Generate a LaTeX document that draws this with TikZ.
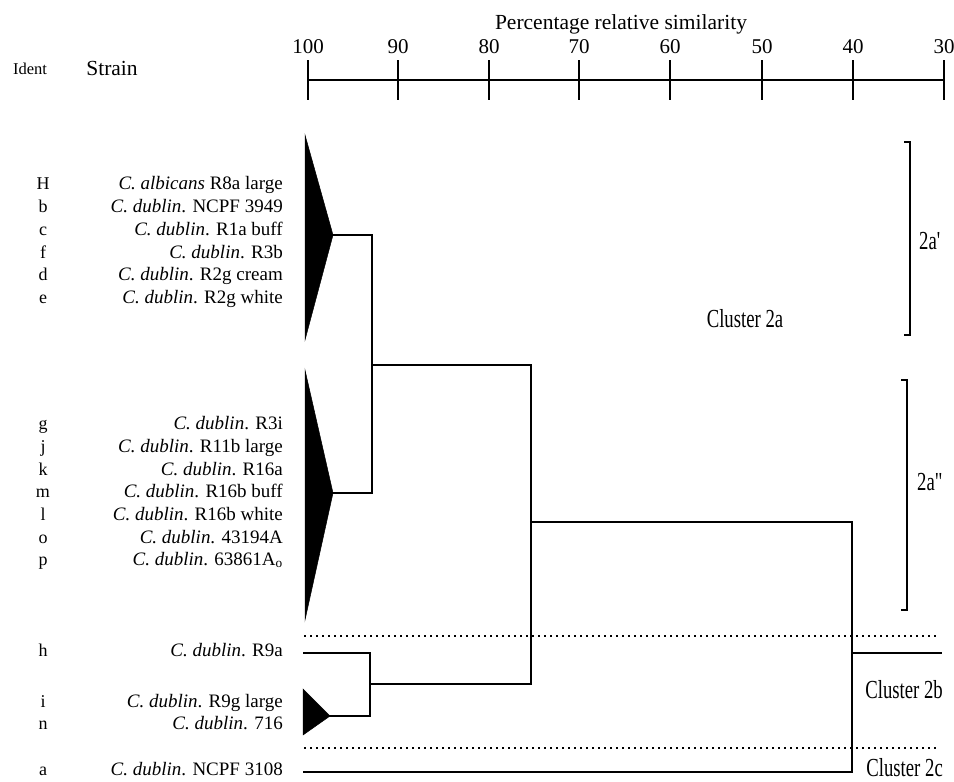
\documentclass[tikz,border=0pt]{standalone}
\usepackage{fontspec}
\usepackage{graphicx}
\setmainfont{Liberation Serif}
\newfontfamily\rawserif[Ligatures=TeXOff]{Liberation Serif}
\newcommand{\cd}{\textit{C. dublin}.}
\newcommand{\cond}[1]{\scalebox{0.72}[1]{#1}}
\begin{document}
\begin{tikzpicture}[x=1pt,y=-1pt,
  strain/.style={inner sep=0pt, anchor=base east, font=\fontsize{19}{19}\selectfont},
  identlbl/.style={inner sep=0pt, anchor=base, font=\fontsize{18}{18}\selectfont},
  head/.style={inner sep=0pt, anchor=base, font=\fontsize{21.5}{21.5}\selectfont},
  ticklbl/.style={inner sep=0pt, anchor=base, font=\fontsize{21}{21}\selectfont},
  clus/.style={inner sep=0pt, font=\fontsize{26}{26}\selectfont},
  branch/.style={line width=1.6pt, line cap=rect},
  axisline/.style={line width=1.8pt},
  sep/.style={line width=1.8pt, dash pattern=on 1.6pt off 4.4pt},
  brk/.style={line width=1.2pt},
  wedge/.style={fill=black, draw=black, line width=0.5pt, line join=miter}]
\useasboundingbox (0,0) rectangle (954,782);

% ---------- axis ----------
\node[head] (title) at (621,29) {Percentage relative similarity};
\coordinate (ax0) at (308,80);
\coordinate (ax1) at (944,80);
\draw[axisline] (ax0) -- (ax1);
\foreach \v/\x in {100/308,90/398,80/489,70/579,60/670,50/762,40/853,30/944}{
  \coordinate (t\v a) at (\x,60);
  \coordinate (t\v b) at (\x,100);
  \draw[axisline] (t\v a) -- (t\v b);
  \node[ticklbl] (tl\v) at (\x,53) {\v};
}
\node[identlbl, font=\fontsize{16.5}{16.5}\selectfont] (hid) at (30,74) {Ident};
\node[head] (hst) at (112,75) {Strain};

% ---------- labels ----------
\foreach \n/\id/\y/\txt in {
  rH/H/189/{\textit{C. albicans} R8a large},
  rb/b/212/{\cd{} NCPF 3949},
  rc/c/235/{\cd{} R1a buff},
  rf/f/258/{\cd{} R3b},
  rd/d/280/{\cd{} R2g cream},
  re/e/303/{\cd{} R2g white},
  rg/g/429/{\cd{} R3i},
  rj/j/452/{\cd{} R11b large},
  rk/k/475/{\cd{} R16a},
  rm/m/497/{\cd{} R16b buff},
  rl/l/520/{\cd{} R16b white},
  ro/o/543/{\cd{} 43194A},
  rp/p/565/{\cd{} 63861A$_{\mathrm{o}}$},
  rh/h/656/{\cd{} R9a},
  ri/i/707/{\cd{} R9g large},
  rn/n/729/{\cd{} 716},
  ra/a/775/{\cd{} NCPF 3108}}{
  \node[identlbl] (\n id) at (43,\y) {\id};
  \node[strain] (\n st) at (283,\y) {\txt};
}

% ---------- wedges ----------
\coordinate (w1a) at (305,135); \coordinate (w1b) at (305,340); \coordinate (w1t) at (333,235);
\coordinate (w2a) at (305,370); \coordinate (w2b) at (305,620); \coordinate (w2t) at (333,493);
\coordinate (w3a) at (303,689); \coordinate (w3b) at (303,735); \coordinate (w3t) at (330,716);
\fill[wedge] (w1a) -- (w1t) -- (w1b) -- cycle;
\fill[wedge] (w2a) -- (w2t) -- (w2b) -- cycle;
\fill[wedge] (w3a) -- (w3t) -- (w3b) -- cycle;

% ---------- dendrogram ----------
\coordinate (j1a) at (372,235); \coordinate (j1b) at (372,493); \coordinate (j1) at (372,365);
\coordinate (j2a) at (370,653); \coordinate (j2b) at (370,716); \coordinate (j2) at (370,684);
\coordinate (hL) at (304,653);
\coordinate (j3a) at (531,365); \coordinate (j3b) at (531,684); \coordinate (j3) at (531,522);
\coordinate (j4a) at (852,522); \coordinate (j4b) at (852,772); \coordinate (j4) at (852,653);
\coordinate (aL) at (304,772);
\coordinate (root) at (941,653);

\draw[branch] (w1t) -- (j1a) -- (j1b) -- (w2t);
\draw[branch] (hL) -- (j2a) -- (j2b) -- (w3t);
\draw[branch] (j1) -- (j3a) -- (j3b) -- (j2);
\draw[branch] (j3) -- (j4a) -- (j4b) -- (aL);
\draw[branch] (j4) -- (root);

% ---------- separators ----------
\coordinate (s1a) at (304,636); \coordinate (s1b) at (938,636);
\coordinate (s2a) at (304,748); \coordinate (s2b) at (938,748);
\draw[sep] (s1a) -- (s1b);
\draw[sep] (s2a) -- (s2b);

% ---------- brackets ----------
\coordinate (b1t) at (910,142); \coordinate (b1b) at (910,335);
\coordinate (b2t) at (907,380); \coordinate (b2b) at (907,610);
\draw[brk] ([xshift=-6pt]b1t) -- (b1t) -- (b1b) -- ([xshift=-6pt]b1b);
\draw[brk] ([xshift=-6pt]b2t) -- (b2t) -- (b2b) -- ([xshift=-6pt]b2b);
\node[clus, anchor=base west] (l2a1) at (919,249) {\cond{\rawserif 2a'}};
\node[clus, anchor=base west] (l2a2) at (917,490) {\cond{\rawserif 2a"}};

\node[clus, anchor=base] (c2a) at (745,327) {\cond{Cluster 2a}};
\node[clus, anchor=base east] (c2b) at (943,698) {\cond{Cluster 2b}};
\node[clus, anchor=base east] (c2c) at (943,776) {\cond{Cluster 2c}};
\end{tikzpicture}
\end{document}
